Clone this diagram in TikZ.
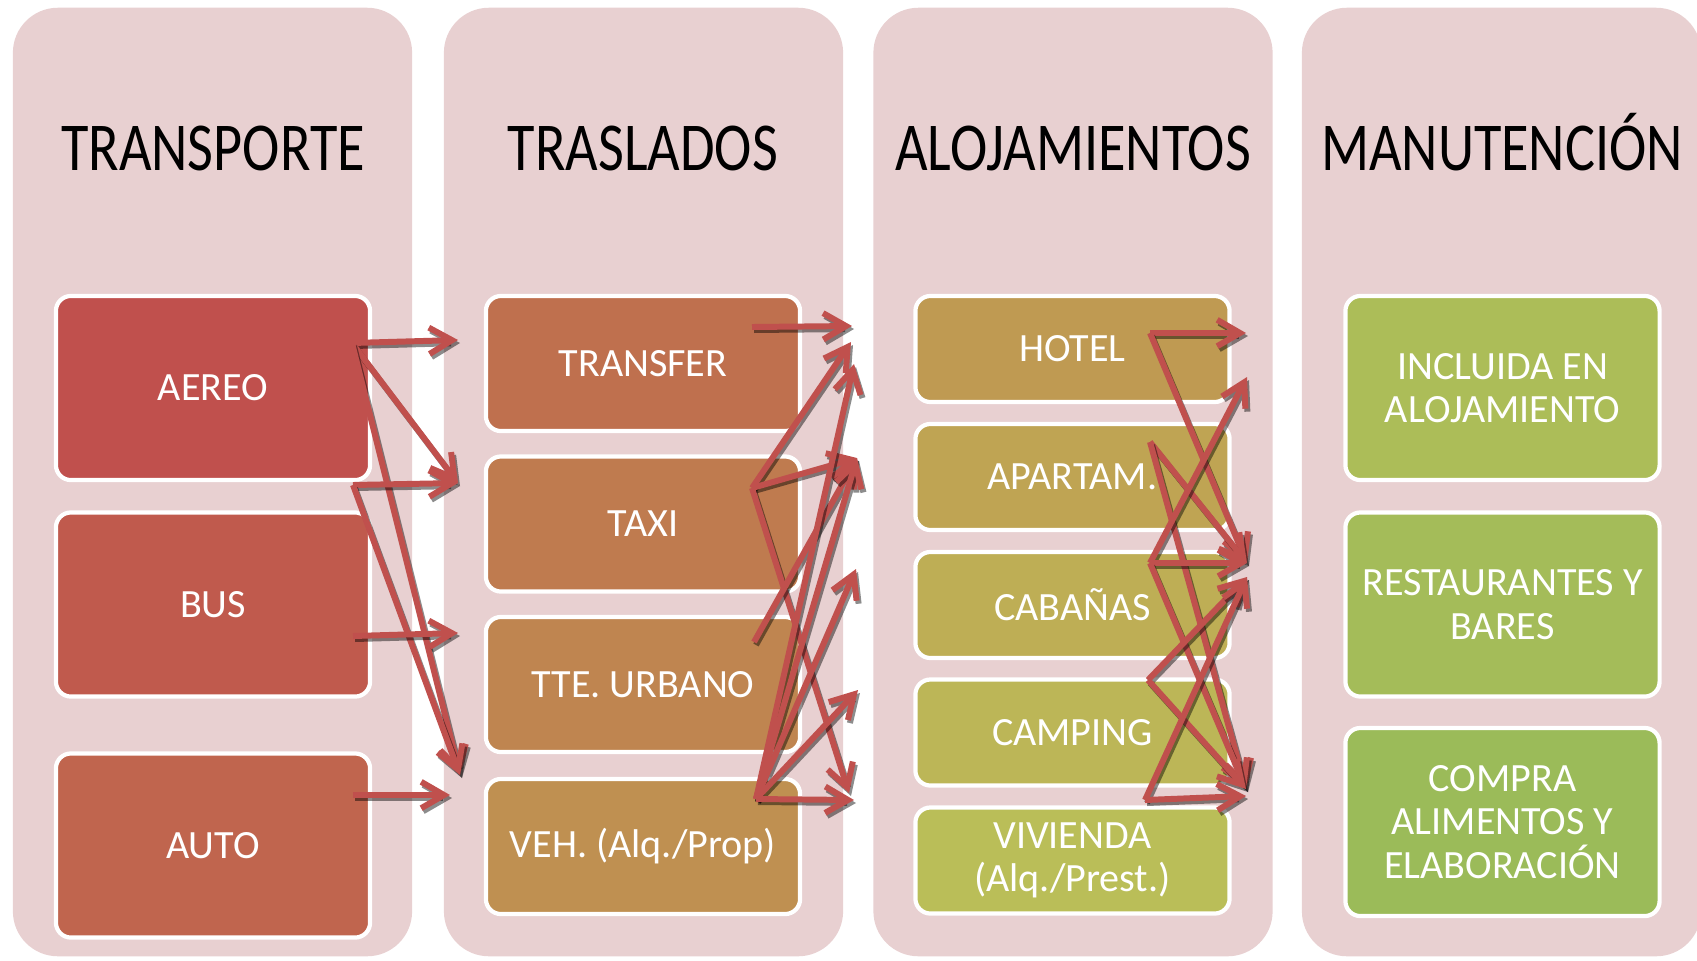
\documentclass[tikz,border=0pt]{standalone}
\usepackage{fontspec}
\setmainfont{Carlito}
\newfontfamily\titlefont[FakeStretch=0.82]{Carlito}
\usetikzlibrary{arrows.meta}
\definecolor{TurPink}{RGB}{232,208,209}
\definecolor{TurArrow}{RGB}{192,80,77}
\definecolor{TurAereo}{RGB}{192,80,77}
\definecolor{TurBus}{RGB}{192,90,77}
\definecolor{TurAuto}{RGB}{192,101,78}
\definecolor{TurTransfer}{RGB}{191,112,78}
\definecolor{TurTaxi}{RGB}{191,123,79}
\definecolor{TurUrbano}{RGB}{191,133,80}
\definecolor{TurVeh}{RGB}{191,144,81}
\definecolor{TurHotel}{RGB}{191,154,82}
\definecolor{TurApartam}{RGB}{191,164,83}
\definecolor{TurCabanas}{RGB}{190,174,85}
\definecolor{TurCamping}{RGB}{188,182,87}
\definecolor{TurVivienda}{RGB}{186,190,88}
\definecolor{TurIncluida}{RGB}{172,189,88}
\definecolor{TurRestaurantes}{RGB}{164,188,89}
\definecolor{TurCompra}{RGB}{155,187,89}
\tikzset{
  tur/column/.style={
    fill=TurPink,
    rounded corners=0.45cm,
    minimum width=3.99cm,
    minimum height=9.48cm,
    inner sep=0pt
  },
  tur/title/.style={font=\titlefont\fontsize{19.5}{24}\selectfont, text=black, anchor=base},
  tur/box/.style={
    draw=white,
    line width=1.2pt,
    rounded corners=0.15cm,
    align=center,
    text=white,
    minimum width=3.14cm,
    inner sep=2pt,
    font=\fontsize{11.4}{12.4}\selectfont
  },
  tur/tall/.style={tur/box, minimum height=1.84cm},
  tur/mid/.style={tur/box, minimum height=1.35cm},
  tur/low/.style={tur/box, minimum height=1.06cm},
  tur/arrow/.style={-{Straight Barb[length=6.5pt,width=7.5pt]}, line width=1.7pt, draw=TurArrow},
  tur/shadow/.style={tur/arrow, draw=black, opacity=0.45, transform canvas={shift={(2,3)}}}
}
\begin{document}
\begin{tikzpicture}[x=0.01cm,y=-0.01cm]
  \useasboundingbox (0,0) rectangle (1697,960);
  \clip (0,0) rectangle (1697,960);

  % columns and titles
  \node[tur/column] (col1) at (212.5,482) {};
  \node[tur/column] (col2) at (643.5,482) {};
  \node[tur/column] (col3) at (1073,482) {};
  \node[tur/column] (col4) at (1501.5,482) {};
  \node[tur/title] (transporte) at (213,170) {TRANSPORTE};
  \node[tur/title] (traslados) at (643,170) {TRASLADOS};
  \node[tur/title] (alojamientos) at (1073,170) {ALOJAMIENTOS};
  \node[tur/title] (manutencion) at (1502,170) {MANUTENCIÓN};

  % transporte
  \node[tur/tall,fill=TurAereo] (aereo) at (213,388) {AEREO};
  \node[tur/tall,fill=TurBus] (bus) at (213,604.5) {BUS};
  \node[tur/tall,fill=TurAuto] (auto) at (213,845.5) {AUTO};

  % traslados
  \node[tur/mid,fill=TurTransfer] (transfer) at (643,363.5) {TRANSFER};
  \node[tur/mid,fill=TurTaxi] (taxi) at (643,524) {TAXI};
  \node[tur/mid,fill=TurUrbano] (urbano) at (643,684.5) {TTE. URBANO};
  \node[tur/mid,fill=TurVeh] (veh) at (643,846.5) {VEH. (Alq./Prop)};

  % alojamientos
  \node[tur/low,fill=TurHotel] (hotel) at (1072.5,349) {HOTEL};
  \node[tur/low,fill=TurApartam] (apartam) at (1072.5,477) {APARTAM.};
  \node[tur/low,fill=TurCabanas] (cabanas) at (1072.5,605) {CABAÑAS};
  \node[tur/low,fill=TurCamping] (camping) at (1072.5,732.5) {CAMPING};
  \node[tur/low,fill=TurVivienda] (vivienda) at (1072.5,860.5) {VIVIENDA\\(Alq./Prest.)};

  % manutencion
  \node[tur/tall,fill=TurIncluida] (incluida) at (1502.5,388) {INCLUIDA EN\\ALOJAMIENTO};
  \node[tur/tall,fill=TurRestaurantes] (restaurantes) at (1502.5,604.5) {RESTAURANTES Y\\BARES};
  \node[tur/tall,fill=TurCompra,minimum height=1.88cm] (compra) at (1502.5,822) {COMPRA\\ALIMENTOS Y\\ELABORACIÓN};

  % arrow ends, first gap
  \coordinate (g1o1) at (352,343);
  \coordinate (g1o2) at (353,485);
  \coordinate (g1o3) at (353,636);
  \coordinate (g1o4) at (353,795);
  \coordinate (g1i1) at (458,340);
  \coordinate (g1i2) at (458,483);
  \coordinate (g1i3) at (458,633);
  \coordinate (g1i4) at (460,775);
  \coordinate (g1i5) at (450,795);
  % second gap
  \coordinate (g2o1) at (752,327);
  \coordinate (g2o2) at (752,488);
  \coordinate (g2o3) at (754,642);
  \coordinate (g2o4) at (756,799);
  \coordinate (g2i1) at (852,326);
  \coordinate (g2i2) at (851,342);
  \coordinate (g2i3) at (854,364);
  \coordinate (g2i4) at (857,458);
  \coordinate (g2i5) at (856,569);
  \coordinate (g2i6) at (858,690);
  \coordinate (g2i7) at (849,793);
  \coordinate (g2i8) at (854,800);
  % third gap
  \coordinate (g3o1) at (1150,333);
  \coordinate (g3o2) at (1150,442);
  \coordinate (g3o3) at (1150,563);
  \coordinate (g3o4) at (1148,680);
  \coordinate (g3o5) at (1145,800);
  \coordinate (g3i1) at (1246,333);
  \coordinate (g3i2) at (1247,377);
  \coordinate (g3i3) at (1247,563);
  \coordinate (g3i4) at (1247,577);
  \coordinate (g3i5) at (1246,789);
  \coordinate (g3i6) at (1246,796);

  \foreach \a/\b in {g1o1/g1i1, g1o1/g1i2, g1o1/g1i4, g1o2/g1i2, g1o2/g1i4, g1o3/g1i3, g1o4/g1i5,
                     g2o1/g2i1, g2o2/g2i2, g2o2/g2i4, g2o2/g2i7, g2o3/g2i4,
                     g2o4/g2i3, g2o4/g2i4, g2o4/g2i5, g2o4/g2i6, g2o4/g2i8,
                     g3o1/g3i1, g3o1/g3i3, g3o2/g3i3, g3o2/g3i5, g3o3/g3i2, g3o3/g3i3, g3o3/g3i5,
                     g3o4/g3i4, g3o4/g3i5, g3o5/g3i4, g3o5/g3i6} {
    \draw[tur/shadow] (\a) -- (\b);
    \draw[tur/arrow] (\a) -- (\b);
  }
\end{tikzpicture}
\end{document}
